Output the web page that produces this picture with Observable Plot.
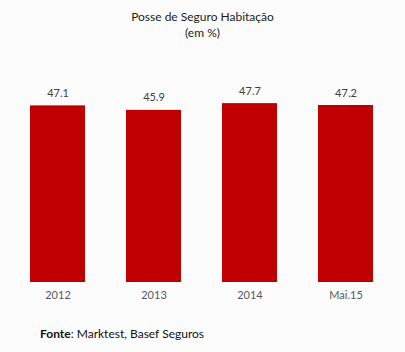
<!DOCTYPE html>
<html>
<head>
<meta charset="utf-8">
<script src="https://cdn.jsdelivr.net/npm/d3@7"></script>
<script src="https://cdn.jsdelivr.net/npm/@observablehq/plot@0.6"></script>
<style>
  html, body { margin: 0; padding: 0; background: #fcfcfc; }
  #wrap { width: 405px; height: 352px; position: relative; font-family: Lato, "Open Sans", sans-serif; }
  #title { position: absolute; top: 9px; left: 0; width: 405px; text-align: center; font-size: 12px; line-height: 16px; color: #1a1a1a; }
  #chart { position: absolute; top: 50px; left: 0; }
  #foot { position: absolute; top: 326px; left: 40px; font-size: 12px; color: #111; }
</style>
</head>
<body>
<div id="wrap">
  <div id="title">Posse de Seguro Habitação<br>(em %)</div>
  <div id="chart"></div>
  <div id="foot"><b>Fonte</b>: Marktest, Basef Seguros</div>
</div>
<script>
const categories = ["2012", "2013", "2014", "Mai.15"];
const values = [47.1, 45.9, 47.7, 47.2];
const valueLabels = ["47.1", "45.9", "47.7", "47.2"];

const data = categories.map((c, i) => ({cat: c, v: values[i], label: valueLabels[i]}));

const chart = Plot.plot({
  width: 405,
  height: 262,
  marginLeft: 0,
  marginRight: 2,
  marginTop: 44.5,
  marginBottom: 30,
  style: {background: "transparent", fontFamily: "Lato, 'Open Sans', sans-serif", fontSize: "11px", color: "#595959"},
  x: {domain: categories, paddingInner: 0.427, paddingOuter: 0.3125, round: false, label: null},
  y: {domain: [0, 50], axis: null},
  marks: [
    Plot.barY(data, {x: "cat", y: "v", fill: "#c00000"}),
    Plot.text(data, {x: "cat", y: "v", text: "label", dy: -9, lineAnchor: "bottom", fill: "#404040", fontSize: 11}),
    Plot.axisX({tickSize: 0, tickPadding: 9, fill: "#595959", fontSize: 11})
  ]
});
document.getElementById("chart").appendChild(chart);
</script>
</body>
</html>
